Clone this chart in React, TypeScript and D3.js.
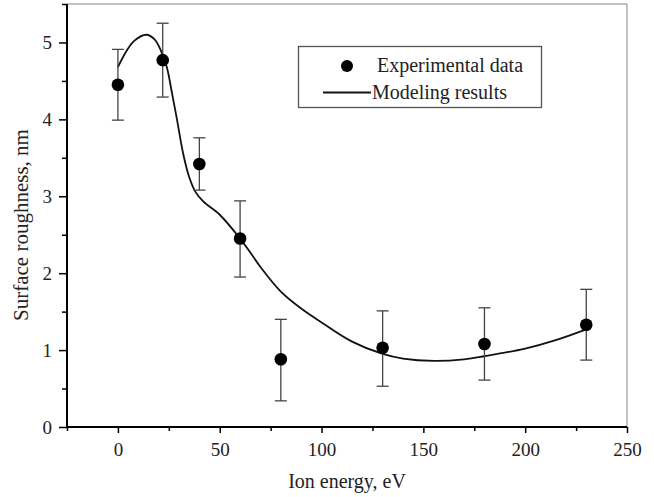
import * as d3 from 'd3';
import { useEffect, useRef } from 'react';

const W = 654;
const H = 497;

// experimental points: ion energy (eV), roughness (nm), error bar lo / hi
const expEnergy = [0, 22, 40, 60, 80, 130, 180, 230];
const expRough = [4.45, 4.77, 3.42, 2.45, 0.88, 1.03, 1.08, 1.33];
const expLo = [3.99, 4.29, 3.08, 1.95, 0.34, 0.53, 0.61, 0.87];
const expHi = [4.91, 5.25, 3.76, 2.94, 1.4, 1.51, 1.55, 1.79];

// modeling curve
const modEnergy = [0, 4, 8, 14, 18, 21, 24, 26.5, 29, 32, 35, 38, 42, 50, 60, 65, 70, 80, 90, 100, 115, 130, 140, 155, 170, 180, 200, 215, 230];
const modRough = [4.68, 4.88, 5.02, 5.1, 5.04, 4.9, 4.68, 4.35, 4.0, 3.56, 3.25, 3.06, 2.93, 2.76, 2.45, 2.27, 2.08, 1.76, 1.54, 1.36, 1.11, 0.95, 0.89, 0.86, 0.88, 0.92, 1.02, 1.13, 1.27];

const xTicks = [0, 50, 100, 150, 200, 250];
const yTicks = [0, 1, 2, 3, 4, 5];

export default function App() {
  const ref = useRef<SVGSVGElement>(null);

  useEffect(() => {
    if (!ref.current) return;
    const svg = d3.select(ref.current);
    svg.selectAll('*').remove();

    const left = 67, right = 627, top = 4, bottom = 427;
    const x = d3.scaleLinear().domain([-25, 250]).range([left, right]);
    const y = d3.scaleLinear().domain([0, 5.5]).range([bottom, top]);
    const font = '"Liberation Serif", "Times New Roman", serif';

    // frame: top and right in grey
    svg.append('path')
      .attr('d', `M${left},${top}H${right}V${bottom}`)
      .attr('fill', 'none')
      .attr('stroke', '#888')
      .attr('stroke-width', 1);

    // x axis
    const xAxis = svg.append('g').attr('transform', `translate(0,${bottom})`);
    xAxis.call(
      d3.axisBottom(x).tickValues(d3.range(-25, 251, 25)).tickSize(6).tickFormat(() => '')
    );
    xAxis.selectAll('.tick line')
      .attr('y2', (d) => ((d as number) % 50 === 0 ? 6 : 4))
      .attr('stroke-width', 1.5);
    xAxis.select('.domain').attr('stroke-width', 2).attr('d', `M${left},0H${right}`);
    xAxis.selectAll('.tick')
      .filter((d) => xTicks.includes(d as number))
      .append('text')
      .attr('y', 29)
      .attr('dy', 0)
      .attr('fill', '#222')
      .attr('text-anchor', 'middle')
      .style('font-family', font)
      .style('font-size', '19px')
      .text((d) => String(d));

    // y axis
    const yAxis = svg.append('g').attr('transform', `translate(${left},0)`);
    yAxis.call(
      d3.axisLeft(y).tickValues(d3.range(0, 5.51, 0.5)).tickSize(8).tickFormat(() => '')
    );
    yAxis.selectAll('.tick line')
      .attr('x2', (d) => (Math.abs((d as number) % 1) < 1e-6 ? -8 : -5))
      .attr('stroke-width', 1.5);
    yAxis.select('.domain').attr('stroke-width', 2).attr('d', `M0,${bottom}V${top}`);
    yAxis.selectAll('.tick')
      .filter((d) => yTicks.includes(d as number))
      .append('text')
      .attr('x', -15)
      .attr('dy', '0.34em')
      .attr('fill', '#222')
      .attr('text-anchor', 'end')
      .style('font-family', font)
      .style('font-size', '19px')
      .text((d) => String(d));

    // axis titles
    svg.append('text')
      .attr('x', 347)
      .attr('y', 488)
      .attr('text-anchor', 'middle')
      .attr('fill', '#222')
      .style('font-family', font)
      .style('font-size', '20px')
      .text('Ion energy, eV');

    svg.append('text')
      .attr('transform', 'translate(28,225) rotate(-90)')
      .attr('text-anchor', 'middle')
      .attr('fill', '#222')
      .style('font-family', font)
      .style('font-size', '21px')
      .text('Surface roughness, nm');

    // model curve
    const line = d3.line<number>()
      .x((_, i) => x(modEnergy[i]))
      .y((d) => y(d))
      .curve(d3.curveCatmullRom.alpha(0.5));
    svg.append('path')
      .attr('d', line(modRough))
      .attr('fill', 'none')
      .attr('stroke', '#111')
      .attr('stroke-width', 1.8);

    // error bars + dots
    const cap = 6;
    const pts = svg.append('g');
    expEnergy.forEach((e, i) => {
      const cx = x(e);
      const g = pts.append('g').attr('stroke', '#444').attr('stroke-width', 1.3);
      g.append('line').attr('x1', cx).attr('x2', cx).attr('y1', y(expLo[i])).attr('y2', y(expHi[i]));
      g.append('line').attr('x1', cx - cap).attr('x2', cx + cap).attr('y1', y(expLo[i])).attr('y2', y(expLo[i]));
      g.append('line').attr('x1', cx - cap).attr('x2', cx + cap).attr('y1', y(expHi[i])).attr('y2', y(expHi[i]));
      pts.append('circle').attr('cx', cx).attr('cy', y(expRough[i])).attr('r', 6.3).attr('fill', '#000');
    });

    // legend
    const lg = svg.append('g');
    lg.append('rect')
      .attr('x', 298.5).attr('y', 46.5).attr('width', 243).attr('height', 61)
      .attr('fill', '#fff').attr('stroke', '#555').attr('stroke-width', 1.3);
    lg.append('circle').attr('cx', 347).attr('cy', 66).attr('r', 6).attr('fill', '#000');
    lg.append('line').attr('x1', 323).attr('x2', 371).attr('y1', 92.5).attr('y2', 92.5)
      .attr('stroke', '#111').attr('stroke-width', 1.8);
    lg.append('text').attr('x', 377).attr('y', 72)
      .attr('fill', '#222').style('font-family', font).style('font-size', '20px')
      .text('Experimental data');
    lg.append('text').attr('x', 372).attr('y', 99)
      .attr('fill', '#222').style('font-family', font).style('font-size', '20px')
      .text('Modeling results');
  }, []);

  return (
    <svg
      ref={ref}
      width={W}
      height={H}
      style={{ position: 'absolute', left: 0, top: 0, background: '#fff' }}
    />
  );
}
